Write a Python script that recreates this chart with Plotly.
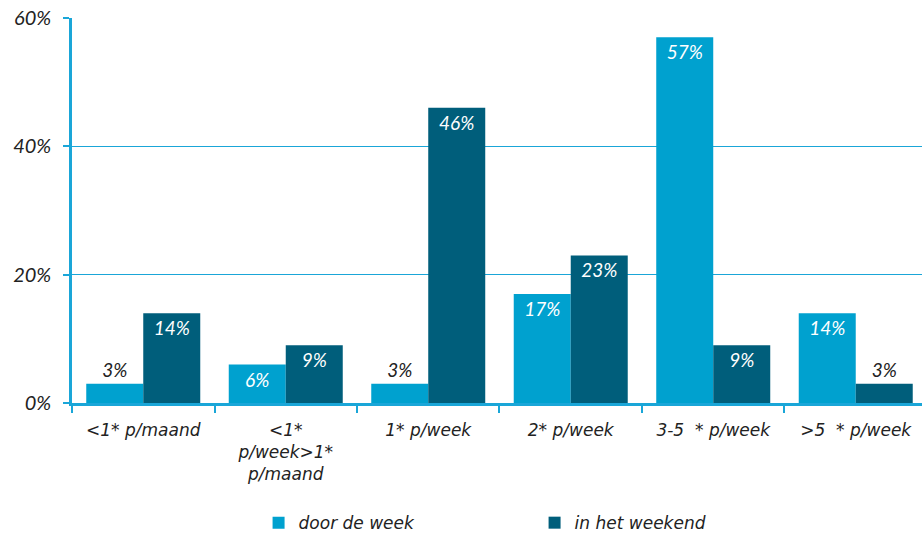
import plotly.graph_objects as go

categories = ["&lt;1* p/maand", "&lt;1*<br>p/week&gt;1*<br>p/maand", "1* p/week",
              "2* p/week", "3-5  * p/week", "&gt;5  * p/week"]
door_de_week = [3, 6, 3, 17, 57, 14]
in_het_weekend = [14, 9, 46, 23, 9, 3]
series_names = ["door de week", "in het weekend"]

LIGHT = "#00A1CF"
DARK = "#005E7B"
AXIS = "#1AA6D8"
FONT = "DejaVu Sans"
NUMFONT = "Lato"

def positions(vals):
    return ["outside" if v < 5 else "inside" for v in vals]

fig = go.Figure()
for name, vals, col in [(series_names[0], door_de_week, LIGHT),
                        (series_names[1], in_het_weekend, DARK)]:
    fig.add_trace(go.Bar(
        x=categories, y=vals, name=name, marker=dict(color=col, line=dict(width=0)),
        text=[f"{v}%" for v in vals], textposition=positions(vals),
        insidetextanchor="end", cliponaxis=False, constraintext="none",
        insidetextfont=dict(color="white", family=NUMFONT, size=19, style="italic"),
        outsidetextfont=dict(color="#222222", family=NUMFONT, size=19, style="italic"),
        textangle=0,
    ))

fig.update_layout(
    width=922, height=538,
    margin=dict(l=72, r=0, t=18, b=135, autoexpand=False),
    paper_bgcolor="white", plot_bgcolor="white",
    barmode="group", bargap=0.2, bargroupgap=0,
    font=dict(family=FONT, size=17, color="#222222", style="italic"),
    legend=dict(orientation="h", x=0.2195, xanchor="left", y=-0.312, yanchor="middle",
                font=dict(family=FONT, size=17, style="italic"),
                entrywidth=231, entrywidthmode="pixels", traceorder="normal"),
    showlegend=True,
)
fig.update_yaxes(range=[0, 60], dtick=20, ticksuffix="%", showgrid=True,
                 gridcolor=AXIS, gridwidth=1, showline=True, linecolor=AXIS,
                 linewidth=2.5, ticks="outside", ticklen=6, tickcolor=AXIS,
                 tickwidth=2, zeroline=False, automargin=False, ticklabelstandoff=8,
                 tickfont=dict(family=NUMFONT, size=20, style="italic", color="#222222"))
fig.update_xaxes(range=[-0.5, 5.465], showline=True, linecolor=AXIS, linewidth=2.5,
                 ticks="outside", tickson="boundaries", ticklen=7, tickcolor=AXIS,
                 tickwidth=2, automargin=False, ticklabelstandoff=10,
                 tickfont=dict(family=FONT, size=17, style="italic", color="#222222"),
                 tickangle=0)

fig.write_html("out.html", config={"displayModeBar": False},
               post_script="document.body.style.margin='0';")
